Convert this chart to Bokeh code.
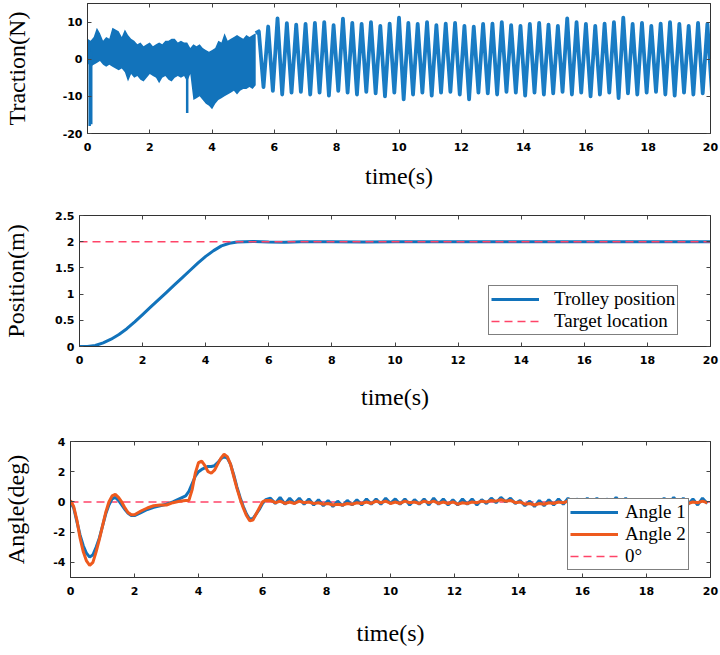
import numpy as np
from bokeh.plotting import figure
from bokeh.models import (Range1d, FixedTicker, LinearAxis, CustomJSTickFormatter,
                          Legend, LegendItem)
from bokeh.layouts import column
from bokeh.embed import file_html
from bokeh.resources import INLINE

# ---------------- data ----------------
x_ticks = [0, 2, 4, 6, 8, 10, 12, 14, 16, 18, 20]

# Traction: dense part (0-5.4 s) read as upper / lower envelope every 0.1 s
dense_t = [round(0.1 * i, 1) for i in range(55)]
dense_hi = [5.5, 5.0, 6.0, 8.5, 7.0, 5.0, 6.0, 5.5, 8.5, 8.0, 7.5, 6.0, 8.0, 6.5, 5.5,
            5.0, 4.0, 4.5, 3.5, 4.0, 4.5, 3.5, 4.0, 4.5, 4.0, 5.0, 5.0, 5.5, 5.5, 4.5,
            5.0, 4.5, 4.5, 3.0, 4.0, 3.5, 4.0, 3.0, 2.5, 2.0, 2.5, 3.0, 5.0, 4.5, 7.0,
            5.0, 5.5, 6.0, 6.5, 6.0, 5.5, 6.5, 6.0, 6.5, 7.0]
dense_lo = [-1.0, -2.0, -1.5, -1.0, -0.5, -1.5, -2.0, -1.5, -2.0, -2.5, -3.0, -2.5,
            -3.5, -6.0, -4.0, -5.0, -4.5, -5.5, -6.0, -5.0, -4.0, -4.5, -5.0, -6.5,
            -5.0, -4.5, -5.5, -6.0, -5.0, -4.5, -5.0, -4.5, -6.0, -4.0, -11.0, -10.5,
            -10.0, -11.0, -12.0, -12.5, -13.5, -12.0, -11.0, -10.5, -10.0, -9.5, -9.0,
            -8.5, -9.5, -8.5, -8.0, -8.0, -7.5, -8.0, -7.0]
spike_t = [0.07, 0.12, 3.2]
spike_top = [3.0, 2.0, -4.0]
spike_bot = [-18.0, -17.5, -14.5]

# Traction: oscillating part (peaks / troughs)
osc_peak_t0, osc_half = 5.5, 0.15
osc_peaks = [7.5, 8.8, 11.0, 9.7, 9.3, 9.5, 9.8, 10.0, 9.2, 10.9, 9.8, 9.5, 10.0, 9.0,
             9.6, 11.2, 9.8, 9.5, 10.0, 9.2, 9.6, 9.8, 9.0, 8.8, 9.5, 9.6, 10.0, 9.2,
             9.0, 9.5, 9.8, 9.3, 9.0, 11.0, 10.0, 9.5, 9.0, 9.6, 10.0, 11.2, 9.5, 9.8,
             9.0, 9.6, 10.0, 9.5, 9.0, 9.8, 9.5]
osc_troughs = [-7.5, -8.5, -9.5, -9.0, -8.8, -9.5, -9.0, -9.8, -8.5, -9.0, -9.5, -8.8,
               -9.2, -10.0, -9.0, -10.8, -9.5, -9.0, -9.8, -9.0, -8.8, -9.5, -10.8,
               -9.0, -9.2, -9.5, -8.8, -9.0, -9.8, -9.0, -9.5, -9.2, -8.8, -9.5, -9.0,
               -10.0, -9.5, -9.0, -10.5, -9.2, -9.5, -9.0, -8.8, -9.5, -9.8, -9.0,
               -9.5, -9.2, -9.5]

# Position
pos_t = [0, 0.25, 0.5, 0.75, 1.0, 1.25, 1.5, 1.75, 2.0, 2.25, 2.5, 2.75, 3.0, 3.25,
         3.5, 3.75, 4.0, 4.25, 4.5, 4.75, 5.0, 5.25, 5.5, 6, 6.5, 7, 8, 9, 10, 12, 14,
         16, 18, 20]
pos_v = [0, 0.0, 0.02, 0.07, 0.14, 0.23, 0.34, 0.47, 0.61, 0.75, 0.89, 1.03, 1.17,
         1.31, 1.45, 1.59, 1.72, 1.83, 1.92, 1.97, 1.995, 2.0, 2.005, 1.995, 1.99, 2.0,
         2.0, 1.995, 2.0, 2.0, 2.0, 2.0, 2.0, 2.0]
target_pos = 2.0

# Angles: transient part
ang_t = [0, 0.1, 0.2, 0.3, 0.4, 0.5, 0.6, 0.7, 0.8, 0.9, 1.0, 1.1, 1.2, 1.3, 1.4, 1.5,
         1.6, 1.7, 1.8, 1.9, 2.0, 2.2, 2.4, 2.6, 2.8, 3.0, 3.2, 3.4, 3.6, 3.7, 3.8, 3.9,
         4.0, 4.1, 4.2, 4.3, 4.4, 4.5, 4.6, 4.7, 4.8, 4.9, 5.0, 5.1, 5.2, 5.3, 5.4, 5.5,
         5.6, 5.7, 5.8, 5.9, 6.0, 6.1]
ang1_v = [0, -0.4, -1.3, -2.2, -2.9, -3.4, -3.65, -3.5, -3.0, -2.4, -1.6, -0.8, -0.2,
          0.2, 0.3, 0.1, -0.2, -0.5, -0.75, -0.9, -0.9, -0.7, -0.5, -0.35, -0.25,
          -0.15, 0.0, 0.2, 0.4, 0.7, 1.2, 1.7, 2.0, 2.15, 2.25, 2.35, 2.35, 2.4, 2.6,
          2.85, 3.0, 2.9, 2.5, 1.8, 1.0, 0.3, -0.3, -0.8, -1.15, -1.1, -0.8, -0.5,
          -0.1, 0.15]
ang2_v = [0.1, -0.3, -1.2, -2.4, -3.3, -3.9, -4.2, -4.0, -3.3, -2.5, -1.6, -0.7, 0.0,
          0.4, 0.5, 0.3, 0.0, -0.4, -0.7, -0.85, -0.85, -0.6, -0.4, -0.25, -0.2, -0.2,
          -0.05, 0.05, 0.1, 0.1, 0.8, 1.9, 2.6, 2.7, 2.4, 2.0, 1.9, 2.1, 2.5, 2.9, 3.15,
          3.0, 2.5, 1.7, 0.9, 0.2, -0.4, -0.9, -1.25, -1.2, -0.8, -0.4, 0.0, 0.1]
# Angles: residual ripple, every 0.15 s from 6.25 s
rip_t0, rip_dt = 6.25, 0.15
ang1_rip = [0.25, -0.1, 0.3, -0.15, 0.25, -0.1, 0.25, -0.15, 0.2, -0.2, 0.15, -0.25,
            0.1, -0.3, 0.05, -0.25, 0.1, -0.2, 0.15, -0.2, 0.2, -0.15, 0.2, -0.15,
            0.25, -0.1, 0.2, -0.15, 0.2, -0.2, 0.15, -0.15, 0.2, -0.2, 0.25, -0.15,
            0.2, -0.2, 0.15, -0.2, 0.2, -0.15, 0.2, -0.2, 0.15, -0.1, 0.25, -0.05, 0.3,
            0.0, 0.25, -0.1, 0.1, -0.25, 0.05, -0.3, 0.1, -0.25, 0.15, -0.2, 0.2,
            -0.15, 0.25, -0.1, 0.2, -0.15, 0.25, -0.1, 0.25, -0.15, 0.2, -0.1, 0.3,
            -0.1, 0.25, -0.15, 0.2, -0.2, 0.15, -0.15, 0.2, -0.2, 0.25, -0.1, 0.3, -0.1,
            0.25, -0.15, 0.2, -0.2, 0.25, -0.1]
ang2_rip = [0.1, -0.05, 0.05, -0.1, 0.0, -0.1, 0.05, -0.05, 0.0, -0.1, -0.05, -0.15,
            -0.1, -0.2, -0.15, -0.2, -0.1, -0.15, -0.05, -0.1, 0.0, -0.1, 0.05, -0.05,
            0.05, -0.1, 0.0, -0.1, 0.05, -0.05, 0.0, -0.1, 0.05, -0.05, 0.05, -0.1, 0.0,
            -0.1, 0.0, -0.15, -0.05, -0.1, 0.0, -0.05, 0.05, 0.0, 0.1, 0.05, 0.15, 0.05,
            0.1, -0.05, 0.0, -0.15, -0.1, -0.2, -0.1, -0.15, -0.05, -0.1, 0.0, -0.05,
            0.05, -0.05, 0.05, -0.1, 0.0, -0.05, 0.05, -0.05, 0.05, -0.1, 0.05, -0.05,
            0.1, -0.05, 0.05, -0.1, 0.0, -0.05, 0.05, -0.1, 0.05, -0.05, 0.1, -0.05,
            0.05, -0.1, 0.0, -0.05, 0.05, -0.05]
zero_ref = 0.0

# ---------------- assemble series ----------------
n_osc = min(len(osc_peaks), len(osc_troughs))
osc_t, osc_v = [], []
for k in range(n_osc):
    osc_t += [osc_peak_t0 + 2 * k * osc_half, osc_peak_t0 + (2 * k + 1) * osc_half]
    osc_v += [osc_peaks[k], osc_troughs[k]]

ang1_t_all = ang_t + [rip_t0 + rip_dt * i for i in range(len(ang1_rip))]
ang1_all = ang1_v + ang1_rip
ang2_t_all = ang_t + [rip_t0 + rip_dt * i for i in range(len(ang2_rip))]
ang2_all = ang2_v + ang2_rip

BLUE = "#1273BB"
OSC_BLUE = "#1A7CC4"
ORANGE = "#EE5A1E"
RED = "#FF4468"
TICK_FONT = "DejaVu Sans"
SERIF = "Liberation Serif"


def make_fig(frame_w, frame_h, left, right, top, bottom, y_rng, y_ticks, ylabel,
             ylab_standoff, xlab_standoff):
    p = figure(frame_width=frame_w, frame_height=frame_h, output_backend="svg",
               toolbar_location=None, x_range=Range1d(0, 20), y_range=Range1d(*y_rng),
               min_border_left=left, min_border_right=right, min_border_top=top,
               min_border_bottom=bottom, frame_align=False)
    p.xgrid.visible = False
    p.ygrid.visible = False
    p.outline_line_color = "#333333"
    p.outline_line_width = 1
    p.background_fill_color = "white"
    p.border_fill_color = "white"
    fmt = CustomJSTickFormatter(code="return tick.toString();")
    for ax, ticks in ((p.xaxis[0], x_ticks), (p.yaxis[0], y_ticks)):
        ax.ticker = FixedTicker(ticks=ticks)
        ax.formatter = fmt
        ax.major_tick_in = 4
        ax.major_tick_out = 0
        ax.minor_tick_line_color = None
        ax.major_tick_line_color = "#444444"
        ax.axis_line_color = "#333333"
        ax.major_label_text_font = TICK_FONT
        ax.major_label_text_font_style = "bold"
        ax.major_label_text_font_size = "11px"
        ax.major_label_text_color = "black"
        ax.axis_label_text_font = SERIF
        ax.axis_label_text_font_style = "normal"
        ax.axis_label_text_font_size = "24px"
        ax.axis_label_text_color = "black"
    p.xaxis.major_label_standoff = 9
    p.yaxis.major_label_standoff = 5
    p.xaxis.axis_label = "time(s)"
    p.yaxis.axis_label = ylabel
    p.yaxis.axis_label_standoff = ylab_standoff
    p.xaxis.axis_label_standoff = xlab_standoff
    # mirrored ticks on top and right (no labels drawn)
    for loc, ticks in (("above", x_ticks), ("right", y_ticks)):
        ax = LinearAxis(ticker=FixedTicker(ticks=ticks), major_tick_in=4,
                        major_tick_out=0, minor_tick_line_color=None,
                        major_label_text_color=None, major_label_text_font_size="1px",
                        major_label_standoff=0,
                        major_tick_line_color="#444444", axis_line_color="#333333")
        p.add_layout(ax, loc)
    return p


# ---- panel 1: traction ----
p1 = make_fig(623, 130, 84, 12, 3, 67, (-20, 15), [-20, -10, 0, 10], "Traction(N)",
              30, 9)
p1.varea(x=dense_t, y1=dense_lo, y2=dense_hi, fill_color=BLUE, fill_alpha=1.0)
p1.segment(x0=spike_t, y0=spike_top, x1=spike_t, y1=spike_bot, line_color=BLUE,
           line_width=2.5)
p1.line(x=[dense_t[-1]] + osc_t, y=[dense_hi[-1]] + osc_v, line_color=OSC_BLUE,
        line_width=3.8, line_join="round")

# ---- panel 2: position ----
p2 = make_fig(631, 131, 76, 12, 15, 79, (0, 2.5), [0, 0.5, 1, 1.5, 2, 2.5],
              "Position(m)", 23, 17)
r_pos = p2.line(x=pos_t, y=pos_v, line_color=BLUE, line_width=3)
r_tgt = p2.line(x=[0, 20], y=[target_pos, target_pos], line_color=RED, line_width=1.6,
                line_dash="8 5")
leg2 = Legend(items=[LegendItem(label="Trolley position", renderers=[r_pos]),
                     LegendItem(label="Target location", renderers=[r_tgt])],
              location=(409, 11), orientation="vertical")

# ---- panel 3: angles ----
p3 = make_fig(640, 136, 67, 12, 16, 73, (-5, 4), [-4, -2, 0, 2, 4], "Angle(deg)", 21, 22)
r_zero = p3.line(x=[0, 20], y=[zero_ref, zero_ref], line_color=RED, line_width=1.6,
                 line_dash="8 5")
r_a1 = p3.line(x=ang1_t_all, y=ang1_all, line_color=BLUE, line_width=3)
r_a2 = p3.line(x=ang2_t_all, y=ang2_all, line_color=ORANGE, line_width=3)
leg3 = Legend(items=[LegendItem(label="Angle 1", renderers=[r_a1]),
                     LegendItem(label="Angle 2", renderers=[r_a2]),
                     LegendItem(label="0°", renderers=[r_zero])],
              location=(497, 7), orientation="vertical")

for leg, standoff, spacing in ((leg2, 15, -3), (leg3, 7, -4)):
    leg.border_line_color = "black"
    leg.border_line_width = 1
    leg.background_fill_color = "white"
    leg.background_fill_alpha = 1
    leg.label_text_font = SERIF
    leg.label_text_font_size = "19px"
    leg.label_text_color = "black"
    leg.glyph_width = 48
    leg.glyph_height = 14
    leg.label_height = 14
    leg.label_standoff = standoff
    leg.spacing = spacing
    leg.padding = 2
    leg.margin = 0

p2.add_layout(leg2, "center")
p3.add_layout(leg3, "center")

layout = column(p1, p2, p3, spacing=0)
open("out.html", "w").write(file_html(layout, INLINE))
